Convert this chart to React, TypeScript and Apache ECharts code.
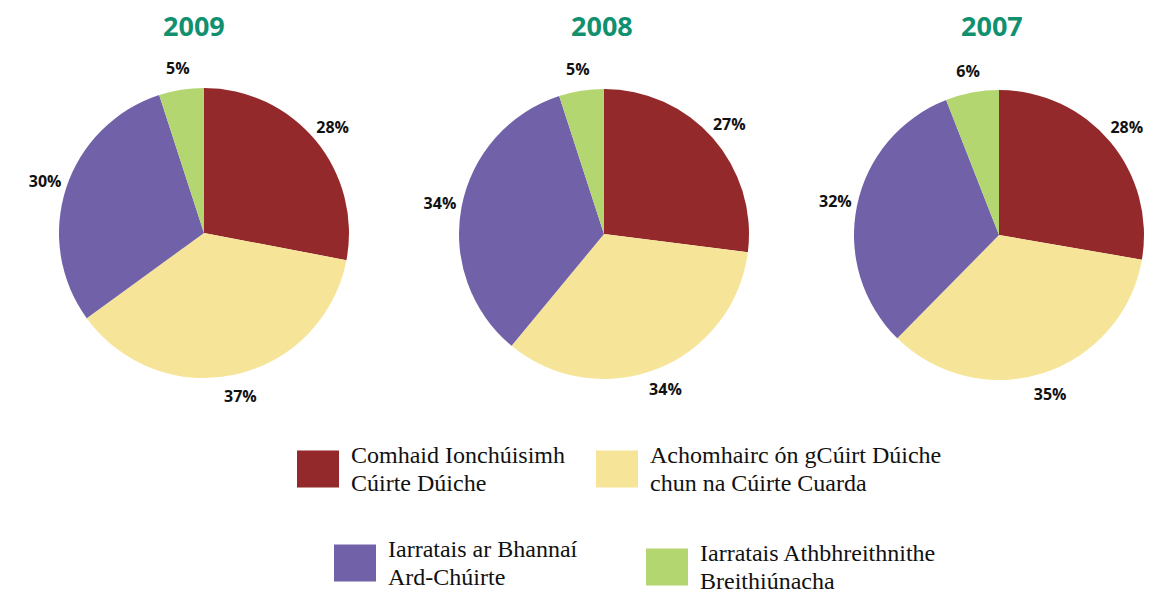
import React, { useEffect, useRef } from "react";
import * as echarts from "echarts";

const categories = [
  "Comhaid Ionchúisimh\nCúirte Dúiche",
  "Achomhairc ón gCúirt Dúiche\nchun na Cúirte Cuarda",
  "Iarratais ar Bhannaí\nArd-Chúirte",
  "Iarratais Athbhreithnithe\nBreithiúnacha",
];
const years = ["2009", "2008", "2007"];
const values2009 = [28, 37, 30, 5];
const values2008 = [27, 34, 34, 5];
const values2007 = [28, 35, 32, 6];
const colors = ["#93292a", "#f6e598", "#7161a9", "#b4d670"];

const allValues = [values2009, values2008, values2007];
const centers: [number, number][] = [
  [204, 233],
  [604, 234],
  [999, 235],
];
const titleLefts = [163, 571, 961];
const legendPos = [
  { left: 297, top: 441 },
  { left: 596, top: 441 },
  { left: 334, top: 535 },
  { left: 646, top: 539 },
];

export default function App() {
  const ref = useRef<HTMLDivElement>(null);
  useEffect(() => {
    if (!ref.current) return;
    const chart = echarts.init(ref.current, null, { renderer: "svg" });
    const pieSeries: any[] = allValues.map((vals, i) => ({
      type: "pie",
      name: years[i],
      center: centers[i],
      radius: 145,
      startAngle: 90,
      clockwise: true,
      label: { show: false },
      labelLine: { show: false },
      silent: true,
      itemStyle: { borderWidth: 0 },
      data: vals.map((v, j) => ({
        name: categories[j],
        value: v,
        itemStyle: { color: colors[j] },
      })),
    }));
    const labelSeries: any[] = allValues.map((vals, i) => ({
      type: "pie",
      name: years[i] + " labels",
      center: centers[i],
      radius: [145, 183],
      startAngle: 90,
      clockwise: true,
      silent: true,
      itemStyle: { color: "rgba(0,0,0,0)", borderWidth: 0 },
      emphasis: { disabled: true },
      label: {
        show: true,
        position: "inside",
        formatter: "{c}%",
        color: "#111",
        fontFamily: '"Open Sans", sans-serif',
        fontWeight: 700,
        fontSize: 16,
      },
      labelLine: { show: false },
      data: vals.map((v, j) => ({ name: categories[j], value: v })),
    }));
    chart.setOption({
      animation: false,
      backgroundColor: "#ffffff",
      title: years.map((y, i) => ({
        text: y,
        left: titleLefts[i],
        top: 12,
        padding: 0,
        textStyle: {
          color: "#11906f",
          fontFamily: '"Open Sans", sans-serif',
          fontWeight: 700,
          fontSize: 27,
        },
      })),
      legend: categories.map((c, i) => ({
        data: [c],
        left: legendPos[i].left,
        top: legendPos[i].top,
        padding: 0,
        icon: "rect",
        itemWidth: 42,
        itemHeight: 37,
        selectedMode: false,
        textStyle: {
          color: "#111",
          fontFamily: '"Liberation Serif", "Times New Roman", serif',
          fontSize: 24,
          lineHeight: 28,
          padding: [0, 0, 0, 7],
        },
      })),
      series: [...pieSeries, ...labelSeries],
    });
    return () => chart.dispose();
  }, []);
  return (
    <div
      ref={ref}
      style={{ position: "absolute", left: 0, top: 0, width: 1163, height: 595 }}
    />
  );
}
